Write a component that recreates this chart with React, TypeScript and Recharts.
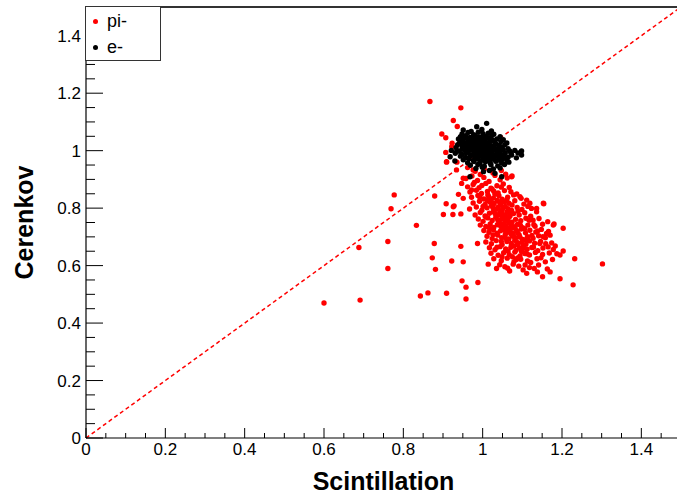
import React from 'react';
import { ScatterChart, Scatter, XAxis, YAxis, ReferenceLine } from 'recharts';

// pi- events (Scintillation, Cerenkov)
const piPoints: [number, number][] = [
  // scattered outliers
  [0.600, 0.470], [0.691, 0.480], [0.761, 0.590], [0.761, 0.684], [0.688, 0.663], [0.777, 0.846],
  [0.769, 0.798], [0.833, 0.740], [0.879, 0.842], [0.878, 0.677], [0.873, 0.627], [0.881, 0.587],
  [0.843, 0.494], [0.862, 0.505], [0.909, 0.504], [0.958, 0.484], [0.958, 0.525], [0.948, 0.547],
  [0.988, 0.541], [0.922, 0.616], [0.951, 0.613], [0.945, 0.667], [0.987, 0.677], [0.908, 0.815],
  [0.928, 0.808], [0.901, 0.778], [0.925, 0.778], [0.945, 0.780], [1.302, 0.606], [1.228, 0.533],
  [1.195, 0.554], [1.232, 0.624], [1.203, 0.730], [1.154, 0.815], [1.074, 0.912], [0.909, 0.960],
  [0.935, 0.960], [0.867, 1.171], [0.945, 1.149], [0.926, 1.105], [0.936, 1.084], [0.897, 1.058],
  [0.907, 1.045], [0.923, 1.026], [0.922, 1.014], [0.907, 0.994], [0.909, 0.962], [1.153, 0.817],
  [1.136, 0.799], [1.111, 0.573], [1.151, 0.561], [1.170, 0.578], [1.130, 0.590], [1.035, 0.590],
  [1.014, 0.605], [1.077, 0.605], [1.056, 0.596], [1.107, 0.602], [1.203, 0.651], [1.195, 0.637],
  [1.180, 0.745], [1.164, 0.753], [1.119, 0.817], [1.094, 0.840], [1.111, 0.828], [0.926, 0.805],
  [0.939, 0.848], [0.951, 0.834], [0.972, 0.863], [0.951, 0.904], [0.947, 0.886], [0.934, 0.933],
  [0.976, 0.933], [1.073, 0.909], [1.123, 0.799], [1.136, 0.787], [1.178, 0.741], [1.170, 0.706],
  [1.161, 0.712], [1.144, 0.677], [1.165, 0.665],
  // main cluster
  [0.962, 0.941], [0.981, 0.928], [1.004, 0.936], [1.026, 0.922], [1.047, 0.931], [0.994, 0.917], [1.058, 0.918],
  [0.958, 0.903], [0.973, 0.912], [0.987, 0.896], [1.003, 0.907], [1.016, 0.893], [1.031, 0.914], [1.044, 0.899],
  [1.062, 0.905], [0.979, 0.889],
  [0.962, 0.874], [0.976, 0.882], [0.991, 0.871], [1.008, 0.886], [1.021, 0.869], [1.036, 0.878], [1.052, 0.884],
  [1.067, 0.872], [0.998, 0.879],
  [0.968, 0.856], [0.984, 0.862], [0.997, 0.851], [1.012, 0.858], [1.024, 0.866], [1.039, 0.853], [1.055, 0.861],
  [1.071, 0.857], [1.086, 0.849], [1.031, 0.848],
  [0.972, 0.838], [0.988, 0.844], [1.003, 0.832], [1.015, 0.841], [1.027, 0.835], [1.041, 0.843], [1.049, 0.831],
  [1.063, 0.838], [1.078, 0.846], [1.097, 0.834], [1.021, 0.829],
  [0.976, 0.818], [0.992, 0.824], [1.006, 0.813], [1.018, 0.821], [1.029, 0.816], [1.037, 0.827], [1.046, 0.812],
  [1.055, 0.822], [1.066, 0.817], [1.081, 0.826], [1.104, 0.814], [1.012, 0.827], [1.043, 0.819],
  [0.967, 0.797], [0.984, 0.804], [0.998, 0.793], [1.011, 0.801], [1.022, 0.808], [1.031, 0.795], [1.039, 0.803],
  [1.048, 0.791], [1.057, 0.806], [1.064, 0.798], [1.073, 0.792], [1.087, 0.802], [1.099, 0.795], [1.114, 0.806],
  [1.026, 0.801], [1.051, 0.799],
  [0.981, 0.776], [0.994, 0.785], [1.006, 0.773], [1.017, 0.782], [1.027, 0.788], [1.035, 0.774], [1.043, 0.784],
  [1.052, 0.777], [1.061, 0.787], [1.069, 0.773], [1.078, 0.781], [1.092, 0.776], [1.106, 0.784], [1.121, 0.772],
  [1.031, 0.781], [1.058, 0.771], [1.046, 0.789],
  [0.989, 0.762], [1.001, 0.754], [1.013, 0.766], [1.024, 0.757], [1.033, 0.768], [1.041, 0.753], [1.049, 0.763],
  [1.057, 0.756], [1.066, 0.767], [1.074, 0.751], [1.083, 0.761], [1.096, 0.756], [1.109, 0.765], [1.127, 0.758],
  [1.038, 0.760], [1.061, 0.761], [1.142, 0.764],
  [0.994, 0.741], [1.008, 0.736], [1.019, 0.745], [1.028, 0.733], [1.037, 0.742], [1.046, 0.736], [1.054, 0.747],
  [1.062, 0.731], [1.071, 0.741], [1.079, 0.735], [1.088, 0.744], [1.101, 0.732], [1.114, 0.741], [1.132, 0.737],
  [1.151, 0.744], [1.058, 0.739], [1.043, 0.748], [1.067, 0.748],
  [1.003, 0.722], [1.016, 0.716], [1.027, 0.725], [1.036, 0.713], [1.045, 0.721], [1.053, 0.728], [1.061, 0.715],
  [1.069, 0.724], [1.077, 0.712], [1.086, 0.721], [1.097, 0.727], [1.108, 0.714], [1.119, 0.723], [1.134, 0.717],
  [1.148, 0.726], [1.166, 0.719], [1.057, 0.721], [1.082, 0.729],
  [1.011, 0.702], [1.024, 0.694], [1.038, 0.706], [1.048, 0.697], [1.057, 0.708], [1.066, 0.693], [1.075, 0.703],
  [1.083, 0.696], [1.092, 0.707], [1.101, 0.691], [1.113, 0.701], [1.127, 0.695], [1.141, 0.704], [1.158, 0.697],
  [1.071, 0.711], [1.094, 0.699],
  [1.008, 0.682], [1.022, 0.676], [1.034, 0.687], [1.049, 0.673], [1.061, 0.684], [1.072, 0.677], [1.081, 0.688],
  [1.089, 0.672], [1.098, 0.681], [1.109, 0.674], [1.118, 0.686], [1.131, 0.678], [1.146, 0.684], [1.174, 0.679],
  [1.087, 0.681], [1.104, 0.689],
  [1.017, 0.662], [1.031, 0.655], [1.044, 0.666], [1.058, 0.658], [1.071, 0.664], [1.084, 0.653], [1.093, 0.661],
  [1.103, 0.668], [1.112, 0.657], [1.124, 0.663], [1.139, 0.652], [1.152, 0.661], [1.178, 0.656], [1.079, 0.668],
  [1.098, 0.649],
  [1.021, 0.643], [1.039, 0.636], [1.053, 0.645], [1.067, 0.638], [1.081, 0.647], [1.094, 0.634], [1.106, 0.642],
  [1.118, 0.637], [1.133, 0.646], [1.151, 0.639], [1.168, 0.644], [1.187, 0.641], [1.075, 0.631],
  [1.028, 0.624], [1.047, 0.617], [1.062, 0.626], [1.079, 0.614], [1.096, 0.622], [1.113, 0.616], [1.137, 0.624],
  [1.158, 0.613], [1.176, 0.621], [1.088, 0.627],
  [1.043, 0.603], [1.063, 0.591], [1.091, 0.598], [1.118, 0.593], [1.141, 0.602], [1.163, 0.588], [1.068, 0.581],
  [1.102, 0.585], [1.138, 0.578],
  // extra density in the core
  [1.035, 0.797], [1.044, 0.776], [1.052, 0.742], [1.063, 0.756], [1.071, 0.729], [1.078, 0.702], [1.089, 0.713],
  [1.095, 0.741], [1.106, 0.728], [1.114, 0.689], [1.124, 0.705], [1.059, 0.694], [1.047, 0.684], [1.036, 0.664],
  [1.026, 0.707], [1.017, 0.731], [1.008, 0.769], [1.001, 0.806], [0.993, 0.838], [1.028, 0.859], [1.047, 0.873],
  [1.013, 0.846], [1.061, 0.829], [1.074, 0.811], [1.089, 0.789], [1.117, 0.758], [1.129, 0.742], [1.139, 0.721],
  [1.152, 0.701], [1.128, 0.664], [1.111, 0.641], [1.064, 0.651], [1.049, 0.631], [1.085, 0.621], [1.121, 0.611],
  [1.147, 0.627], [1.159, 0.676], [1.183, 0.668], [1.101, 0.659], [1.067, 0.783],
];

// e- events (Scintillation, Cerenkov)
const ePoints: [number, number][] = [
  [0.985, 1.083], [1.010, 1.095], [0.951, 1.072], [0.998, 1.074], [1.022, 1.069],
  [0.948, 1.058], [0.963, 1.063], [0.977, 1.056], [0.989, 1.064], [1.001, 1.059], [1.014, 1.061], [1.028, 1.057], [0.971, 1.067],
  [0.944, 1.049], [0.958, 1.052], [0.969, 1.046], [0.981, 1.053], [0.992, 1.047], [1.003, 1.051], [1.012, 1.046],
  [1.023, 1.053], [1.044, 1.049], [0.975, 1.044],
  [0.939, 1.041], [0.951, 1.037], [0.962, 1.043], [0.971, 1.036], [0.979, 1.042], [0.988, 1.038], [0.997, 1.044],
  [1.006, 1.037], [1.016, 1.042], [1.026, 1.036], [1.036, 1.041], [1.052, 1.038],
  [0.943, 1.031], [0.954, 1.027], [0.964, 1.033], [0.974, 1.028], [0.983, 1.034], [0.991, 1.026], [1.001, 1.032],
  [1.009, 1.027], [1.019, 1.033], [1.031, 1.029], [1.046, 1.032], [1.061, 1.027], [0.968, 1.026], [0.996, 1.035],
  [0.937, 1.021], [0.949, 1.017], [0.959, 1.023], [0.968, 1.016], [0.978, 1.022], [0.987, 1.018], [0.996, 1.024],
  [1.004, 1.016], [1.013, 1.022], [1.022, 1.017], [1.033, 1.023], [1.042, 1.018], [1.056, 1.021], [0.983, 1.025], [1.008, 1.019],
  [0.933, 1.011], [0.948, 1.007], [0.958, 1.013], [0.967, 1.006], [0.977, 1.012], [0.986, 1.008], [0.994, 1.014],
  [1.003, 1.006], [1.011, 1.012], [1.019, 1.007], [1.028, 1.013], [1.038, 1.008], [1.049, 1.012], [1.064, 1.007],
  [0.972, 1.009], [0.999, 1.010],
  [0.921, 1.001], [0.941, 0.998], [0.953, 1.003], [0.963, 0.996], [0.973, 1.002], [0.982, 0.997], [0.991, 1.004],
  [1.001, 0.998], [1.011, 1.003], [1.021, 0.996], [1.031, 1.002], [1.041, 0.997], [1.052, 1.003], [1.068, 0.999],
  [1.081, 1.001], [1.098, 0.999], [0.987, 1.000], [1.016, 1.000],
  [0.931, 0.991], [0.948, 0.987], [0.958, 0.993], [0.968, 0.986], [0.978, 0.992], [0.988, 0.988], [0.997, 0.994],
  [1.006, 0.986], [1.016, 0.992], [1.026, 0.987], [1.036, 0.993], [1.046, 0.988], [1.057, 0.992], [1.073, 0.985],
  [1.098, 0.985], [1.011, 0.990], [0.993, 0.990],
  [0.918, 0.979], [0.944, 0.981], [0.957, 0.976], [0.971, 0.983], [0.981, 0.977], [0.992, 0.982], [1.002, 0.976],
  [1.012, 0.983], [1.023, 0.978], [1.033, 0.982], [1.043, 0.976], [1.053, 0.981], [1.064, 0.977], [1.085, 0.975], [1.018, 0.980],
  [0.951, 0.968], [0.966, 0.972], [0.977, 0.966], [0.988, 0.971], [0.999, 0.967], [1.009, 0.973], [1.019, 0.966],
  [1.029, 0.972], [1.039, 0.967], [1.049, 0.971], [1.061, 0.966], [0.930, 0.964],
  [0.962, 0.958], [0.978, 0.962], [0.993, 0.956], [1.007, 0.961], [1.019, 0.957], [1.033, 0.963], [1.048, 0.957], [1.066, 0.960],
  [0.969, 0.949], [0.988, 0.952], [1.004, 0.946], [1.021, 0.951], [1.038, 0.947], [1.055, 0.952],
  [0.983, 0.938], [0.999, 0.942], [1.027, 0.936], [1.044, 0.940], [1.017, 0.931],
  [0.968, 0.909], [1.002, 0.927], [1.048, 0.909], [1.031, 0.921],
  [0.955, 1.045], [0.965, 1.038], [0.983, 1.048], [1.006, 1.043], [0.975, 1.018], [0.962, 1.006], [1.026, 1.009],
  [1.044, 1.002], [0.997, 0.981], [1.038, 0.986], [1.058, 0.974], [1.071, 0.992], [0.942, 1.026], [0.935, 1.000],
  [1.089, 0.992],
];

const xTicks = [0, 0.05, 0.1, 0.15, 0.2, 0.25, 0.3, 0.35, 0.4, 0.45, 0.5, 0.55, 0.6, 0.65, 0.7, 0.75,
  0.8, 0.85, 0.9, 0.95, 1, 1.05, 1.1, 1.15, 1.2, 1.25, 1.3, 1.35, 1.4, 1.45, 1.5];
const yTicks = [0, 0.05, 0.1, 0.15, 0.2, 0.25, 0.3, 0.35, 0.4, 0.45, 0.5, 0.55, 0.6, 0.65, 0.7, 0.75,
  0.8, 0.85, 0.9, 0.95, 1, 1.05, 1.1, 1.15, 1.2, 1.25, 1.3, 1.35, 1.4, 1.45, 1.5];

const seriesNames = ['pi-', 'e-'];
const seriesColors = ['#ff0000', '#000000'];

const piData = piPoints.map(([x, y]) => ({ x, y }));
const eData = ePoints.map(([x, y]) => ({ x, y }));

const FONT = '"Liberation Sans", Arial, Helvetica, sans-serif';
const W = 700;
const H = 496;

const isMajor = (v: number) => Math.abs(v / 0.2 - Math.round(v / 0.2)) < 1e-6;
const fmt = (v: number) => String(Math.round(v * 10) / 10);

const XTick = (props: any) => {
  const { x, y, payload } = props;
  const v = payload.value;
  const major = isMajor(v);
  return (
    <g>
      <line x1={x} x2={x} y1={y} y2={y - (major ? 10 : 5)} stroke="#000" strokeWidth={1} />
      {major && v < 1.45 && (
        <text x={x} y={y + 17} textAnchor="middle" fontFamily={FONT} fontSize={17} fill="#000">
          {fmt(v)}
        </text>
      )}
    </g>
  );
};

const YTick = (props: any) => {
  const { x, y, payload } = props;
  const v = payload.value;
  const major = isMajor(v);
  return (
    <g>
      <line x1={x} x2={x + (major ? 17 : 9)} y1={y} y2={y} stroke="#000" strokeWidth={1} />
      {major && v < 1.45 && (
        <text x={x - 5} y={y + 6} textAnchor="end" fontFamily={FONT} fontSize={17} fill="#000">
          {fmt(v)}
        </text>
      )}
    </g>
  );
};

const XTitle = (props: any) => {
  const vb = props.viewBox;
  return (
    <text x={vb.x + vb.width / 2} y={vb.y + 52} textAnchor="middle" fontFamily={FONT}
      fontWeight="bold" fontSize={25} fill="#000">
      Scintillation
    </text>
  );
};

const YTitle = (props: any) => {
  const vb = props.viewBox;
  const cx = 33;
  const cy = vb.y + vb.height / 2;
  return (
    <text x={cx} y={cy} transform={`rotate(-90 ${cx} ${cy})`} textAnchor="middle" fontFamily={FONT}
      fontWeight="bold" fontSize={25} fill="#000">
      Cerenkov
    </text>
  );
};

const dot = (color: string) => (p: any) => <circle cx={p.cx} cy={p.cy} r={2.7} fill={color} />;

export default function App() {
  return (
    <div style={{ position: 'absolute', left: 0, top: 0, width: 677, height: 496, overflow: 'hidden', background: '#fff' }}>
      <ScatterChart width={W} height={H} margin={{ top: 7, right: W - 681, left: 0, bottom: 0 }}>
        <XAxis
          type="number"
          dataKey="x"
          domain={[0, 1.5]}
          ticks={xTicks}
          interval={0}
          height={58}
          tickSize={0}
          tickMargin={0}
          tick={<XTick />}
          axisLine={{ stroke: '#000', strokeWidth: 1.2 }}
          allowDataOverflow
          label={<XTitle />}
        />
        <YAxis
          type="number"
          dataKey="y"
          domain={[0, 1.5]}
          ticks={yTicks}
          interval={0}
          width={86}
          tickSize={0}
          tickMargin={0}
          tick={<YTick />}
          axisLine={{ stroke: '#000', strokeWidth: 1.2 }}
          allowDataOverflow
          label={<YTitle />}
        />
        <ReferenceLine y={1.5} stroke="#333" strokeWidth={2} />
        <ReferenceLine x={1.5} stroke="#333" strokeWidth={2} />
        <ReferenceLine
          segment={[{ x: 0, y: 0 }, { x: 1.5, y: 1.5 }]}
          stroke="#ff0000"
          strokeWidth={1.5}
          strokeDasharray="4 3"
        />
        <Scatter name={seriesNames[0]} data={piData} fill={seriesColors[0]} shape={dot(seriesColors[0])} isAnimationActive={false} />
        <Scatter name={seriesNames[1]} data={eData} fill={seriesColors[1]} shape={dot(seriesColors[1])} isAnimationActive={false} />
      </ScatterChart>
      <div
        style={{
          position: 'absolute', left: 85, top: 6, width: 74, height: 53, background: '#fff',
          border: '1.5px solid #333', fontFamily: FONT, fontSize: 18, color: '#000',
        }}
      >
        {seriesNames.map((name, i) => (
          <div key={name} style={{ position: 'absolute', left: 0, top: i === 0 ? 3 : 29, height: 22, display: 'flex', alignItems: 'center' }}>
            <span style={{ display: 'inline-block', width: 5, height: 5, borderRadius: '50%', background: seriesColors[i], marginLeft: 7, marginRight: 9 }} />
            <span>{name}</span>
          </div>
        ))}
      </div>
    </div>
  );
}
